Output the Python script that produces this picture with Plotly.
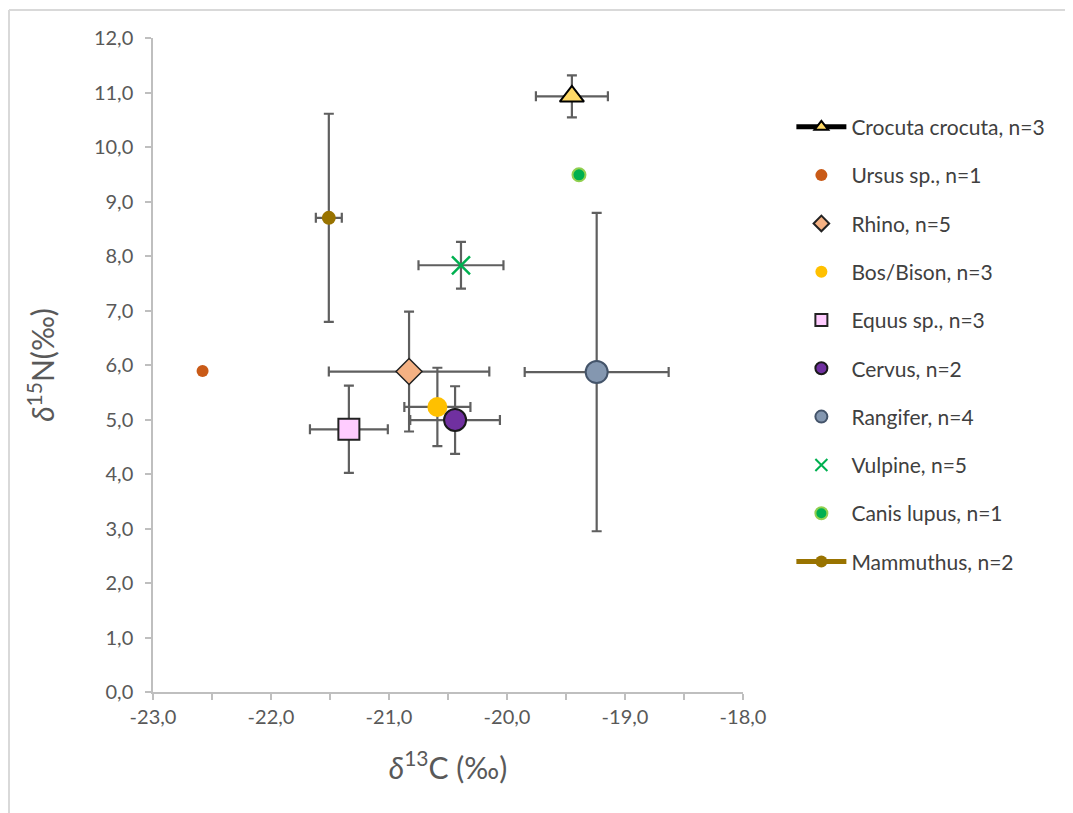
import plotly.graph_objects as go

# ---- data ----
species = ["Crocuta crocuta, n=3", "Ursus sp., n=1", "Rhino, n=5", "Bos/Bison, n=3",
           "Equus sp., n=3", "Cervus, n=2", "Rangifer, n=4", "Vulpine, n=5",
           "Canis lupus, n=1", "Mammuthus, n=2"]
d13C = [-19.45, -22.58, -20.83, -20.59, -21.34, -20.44, -19.24, -20.39, -19.39, -21.51]
d15N = [10.93, 5.89, 5.88, 5.23, 4.82, 4.99, 5.87, 7.83, 9.49, 8.70]
err13C = [0.305, None, 0.68, 0.28, 0.33, 0.38, 0.61, 0.36, None, 0.11]
err15N = [0.385, None, 1.10, 0.72, 0.80, 0.62, 2.92, 0.43, None, 1.91]

x_ticks = [-23, -22, -21, -20, -19, -18]
x_tick_labels = ["-23,0", "-22,0", "-21,0", "-20,0", "-19,0", "-18,0"]
y_ticks = [0, 1, 2, 3, 4, 5, 6, 7, 8, 9, 10, 11, 12]
y_tick_labels = ["0,0", "1,0", "2,0", "3,0", "4,0", "5,0", "6,0", "7,0", "8,0", "9,0",
                 "10,0", "11,0", "12,0"]

# ---- styles ----
styles = [
    dict(symbol="triangle-up", size=21, color="#FFD966", line=dict(color="black", width=2), lc="black"),
    dict(symbol="circle", size=12, color="#C95A17", line=dict(width=0), lc=None),
    dict(symbol="diamond", size=20, color="#F4B183", line=dict(color="#222222", width=1.5), lc=None),
    dict(symbol="circle", size=20, color="#FFC000", line=dict(width=0), lc=None),
    dict(symbol="square", size=21, color="#FFCCFF", line=dict(color="#222222", width=2), lc=None),
    dict(symbol="circle", size=22, color="#7030A0", line=dict(color="#1a1a1a", width=2), lc=None),
    dict(symbol="circle", size=22, color="#8497B0", line=dict(color="#44546A", width=2), lc=None),
    dict(symbol="x-thin", size=18, color="#00B050", line=dict(color="#00B050", width=2.5), lc=None),
    dict(symbol="circle", size=13, color="#00B050", line=dict(color="#92D050", width=2), lc=None),
    dict(symbol="circle", size=14, color="#997300", line=dict(width=0), lc="#997300"),
]

ERR_COLOR = "#5f5f5f"
fig = go.Figure()
for i, name in enumerate(species):
    s = styles[i]
    mode = "lines+markers" if s["lc"] else "markers"
    kw = {}
    if err13C[i] is not None:
        kw["error_x"] = dict(type="data", array=[err13C[i]], color=ERR_COLOR, thickness=2.2, width=5)
    if err15N[i] is not None:
        kw["error_y"] = dict(type="data", array=[err15N[i]], color=ERR_COLOR, thickness=2.2, width=5)
    fig.add_trace(go.Scatter(
        x=[d13C[i]], y=[d15N[i]], name=name, mode=mode,
        legendgroup=name,
        line=dict(color=s["lc"] or s["color"], width=3.5),
        marker=dict(symbol=s["symbol"], size=s["size"], color=s["color"], line=s["line"]),
        **kw))

axis_common = dict(showgrid=False, zeroline=False, showline=True, linecolor="#bfbfbf",
                   linewidth=1.5, ticks="outside", tickcolor="#bfbfbf", ticklen=6, tickwidth=1.5,
                   tickfont=dict(size=20, color="#595959"))

fig.update_xaxes(range=[-23, -18], tickvals=x_ticks, ticktext=x_tick_labels,
                 minor=dict(dtick=0.5, ticks="outside", ticklen=6, tickcolor="#bfbfbf", tickwidth=1.5),
                 title=dict(text="<i>δ</i><sup>13</sup>C (‰)", font=dict(size=30, color="#595959"), standoff=31),
                 **axis_common)
fig.update_yaxes(range=[0, 12], tickvals=y_ticks, ticktext=y_tick_labels, ticklabelstandoff=8,
                 title=dict(text="<i>δ</i><sup>15</sup>N(‰)", font=dict(size=30, color="#595959"), standoff=30),
                 **axis_common)

L, T, PW, PH = 145, 30, 590, 654
fig.update_layout(
    width=1073, height=813,
    margin=dict(l=L, r=1073 - L - PW, t=T, b=813 - T - PH, autoexpand=False),
    paper_bgcolor="white", plot_bgcolor="white",
    font=dict(family="Lato, 'Open Sans', sans-serif", color="#595959"),
    legend=dict(x=1.082, y=0.895, xanchor="left", yanchor="top",
                font=dict(size=21, color="#404040"), tracegroupgap=18,
                itemwidth=50, itemsizing="constant", bgcolor="rgba(0,0,0,0)"),
    shapes=[dict(type="line", xref="paper", yref="paper",
                 x0=(1 - L) / PW, x1=(1 - L) / PW, y0=(T + PH - 2) / PH, y1=(T + PH - 830) / PH,
                 line=dict(color="#d9d9d9", width=2)),
            dict(type="line", xref="paper", yref="paper",
                 x0=(1 - L) / PW, x1=(1090 - L) / PW, y0=(T + PH - 2) / PH, y1=(T + PH - 2) / PH,
                 line=dict(color="#d9d9d9", width=2))],
)

fig.write_html("out.html")
